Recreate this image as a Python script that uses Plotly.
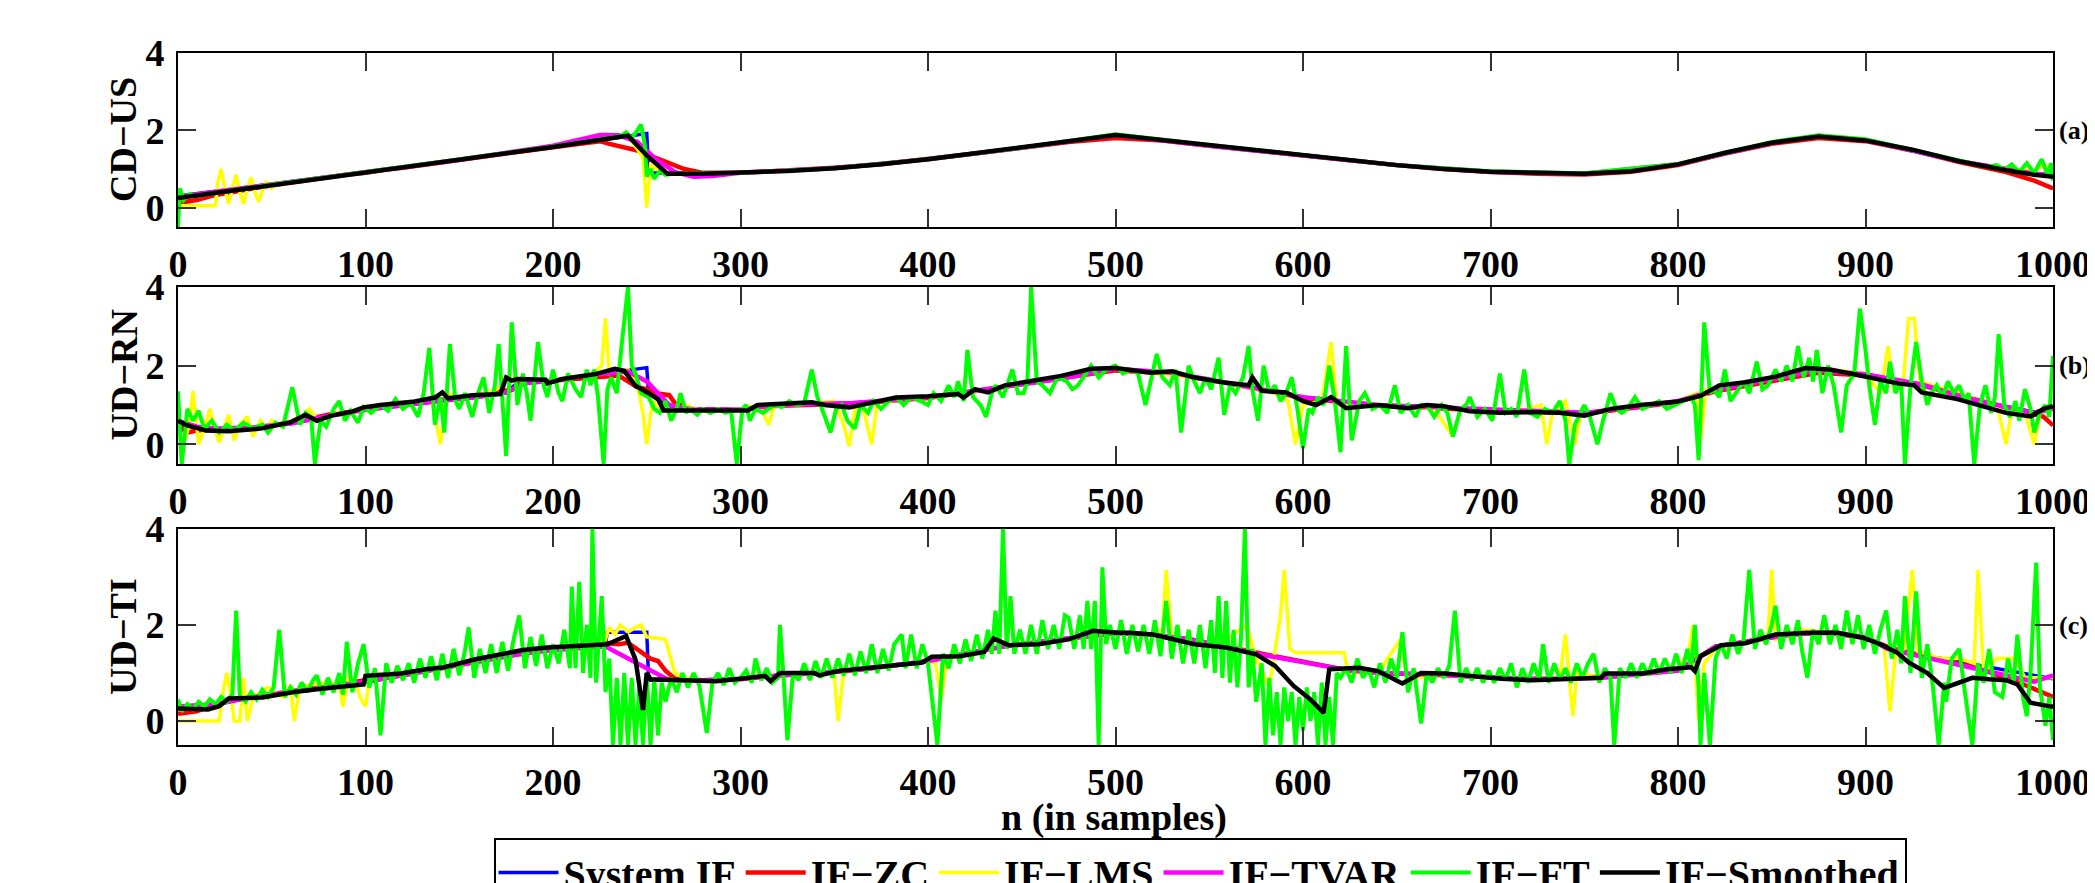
import plotly.graph_objects as go

# ---------------- labels / styling lists ----------------
NAMES = ["System IF", "IF\u2212ZC", "IF\u2212LMS", "IF\u2212TVAR", "IF\u2212FT", "IF\u2212Smoothed"]
COLORS = ["#0000FF", "#FF0000", "#FFFF00", "#FF00FF", "#00FF00", "#000000"]
WIDTHS = [3.5, 4.5, 3.5, 4.5, 4, 4.5]
PANEL_LABELS = ["CD\u2212US", "UD\u2212RN", "UD\u2212TI"]
PANEL_TAGS = ["(a)", "(b)", "(c)"]
X_TICKS = [0, 100, 200, 300, 400, 500, 600, 700, 800, 900, 1000]
Y_TICKS = [0, 2, 4]
X_TITLE = "n (in samples)"

# ---------------- panel (a) CD-US : (sample, IF) ----------------
A_SYS = [(0,0.3),(50,0.6),(100,0.92),(150,1.24),(200,1.57),(240,1.84),(250,1.92),(251,0.9),(280,0.88),(300,0.9),
         (350,1.02),(400,1.25),(450,1.55),(500,1.88),(550,1.6),(600,1.35),(650,1.1),(700,0.93),(750,0.88),(800,1.12),
         (850,1.68),(875,1.85),(900,1.75),(950,1.2),(1000,0.82)]
A_ZC = [(0,0.12),(5,0.15),(10,0.2),(20,0.33),(30,0.42),(40,0.5),(50,0.58),(60,0.65),(70,0.72),(80,0.78),(90,0.85),
        (100,0.9),(110,0.98),(120,1.03),(130,1.1),(140,1.16),(150,1.23),(160,1.3),(170,1.36),(180,1.43),(190,1.5),
        (200,1.56),(210,1.63),(220,1.7),(225,1.72),(230,1.65),(235,1.6),(240,1.55),(245,1.48),(250,1.38),(255,1.28),
        (260,1.18),(265,1.1),(270,1.0),(275,0.95),(280,0.9),(300,0.9),(325,0.96),(350,1.03),(375,1.12),(400,1.25),
        (425,1.4),(450,1.55),(475,1.7),(500,1.8),(525,1.74),(550,1.6),(575,1.47),(600,1.35),(625,1.22),(650,1.1),
        (675,1.0),(700,0.92),(725,0.88),(750,0.86),(775,0.93),(800,1.1),(825,1.4),(850,1.65),(875,1.8),(900,1.72),
        (925,1.48),(950,1.18),(975,0.92),(990,0.7),(1000,0.5)]
A_LMS = [(0,0.05),(20,0.05),(21,0.6),(23,1.0),(25,0.5),(27,0.1),(29,0.5),(31,0.85),(33,0.4),(35,0.1),(37,0.5),
         (39,0.78),(41,0.4),(43,0.15),(45,0.45),(47,0.65),(50,0.5),(53,0.65),(57,0.6),(60,0.66),(100,0.9),(150,1.24),
         (200,1.57),(240,1.86),(248,1.3),(250,0.0),(252,1.1),(255,1.0),(262,0.88),(300,0.9),(350,1.02),(400,1.25),
         (450,1.55),(500,1.88),(550,1.6),(600,1.35),(650,1.1),(700,0.93),(750,0.88),(800,1.12),(850,1.68),(875,1.85),
         (900,1.75),(950,1.2),(980,0.98),(990,0.95),(995,1.1),(1000,0.95)]
A_TVAR = [(0,0.28),(50,0.6),(100,0.92),(150,1.24),(200,1.6),(215,1.78),(225,1.88),(235,1.87),(245,1.7),(255,1.25),
          (265,0.92),(275,0.8),(285,0.82),(300,0.9),(350,1.02),(400,1.25),(450,1.55),(500,1.88),(550,1.6),(600,1.35),
          (650,1.1),(700,0.93),(750,0.88),(800,1.12),(850,1.68),(875,1.85),(900,1.75),(950,1.2),(990,0.88),(1000,0.85)]
A_FT = [(0,-0.5),(1,0.5),(3,0.2),(6,0.35),(10,0.3),(50,0.6),(100,0.92),(150,1.24),(200,1.58),(230,1.8),(236,1.85),
        (239,1.95),(242,1.8),(245,2.0),(247,2.15),(249,1.6),(250,0.8),(252,1.0),(254,0.75),(257,0.95),(260,0.85),
        (265,0.88),(300,0.9),(350,1.02),(400,1.25),(450,1.55),(500,1.9),(550,1.62),(600,1.36),(650,1.1),(700,0.94),
        (750,0.89),(800,1.13),(850,1.7),(875,1.87),(900,1.77),(950,1.22),(965,1.05),(970,1.1),(974,0.98),(978,1.12),
        (982,0.92),(986,1.15),(990,0.9),(994,1.25),(997,0.85),(999,1.15),(1000,0.7)]
A_SM = [(0,0.25),(20,0.38),(40,0.52),(60,0.65),(80,0.78),(100,0.9),(120,1.03),(140,1.16),(160,1.3),(180,1.43),
        (200,1.57),(220,1.72),(240,1.86),(250,1.35),(261,0.88),(280,0.88),(300,0.9),(325,0.95),(350,1.02),(375,1.12),
        (400,1.25),(425,1.4),(450,1.55),(475,1.72),(500,1.88),(525,1.75),(550,1.6),(575,1.48),(600,1.35),(625,1.23),
        (650,1.1),(675,1.0),(700,0.93),(725,0.9),(750,0.88),(775,0.94),(800,1.12),(825,1.42),(850,1.68),(875,1.84),
        (900,1.74),(925,1.5),(950,1.2),(975,0.97),(990,0.85),(1000,0.8)]

# ---------------- panel (b) UD-RN ----------------
B_SYS = [(0,0.5),(10,0.42),(20,0.36),(40,0.42),(60,0.52),(80,0.72),(100,0.88),(120,1.0),(140,1.1),(160,1.2),
         (175,1.3),(180,1.52),(200,1.62),(220,1.75),(240,1.88),(250,1.95),(251,1.3),(260,1.0),(275,0.88),(300,0.88),
         (320,1.0),(360,1.05),(400,1.2),(440,1.45),(470,1.66),(500,1.92),(530,1.82),(560,1.56),(600,1.2),(640,1.0),
         (680,0.93),(720,0.84),(750,0.8),(780,0.97),(800,1.1),(820,1.38),(850,1.65),(875,1.88),(900,1.78),(930,1.52),
         (960,1.1),(990,0.82),(1000,0.95)]
B_ZC = [(0,0.48),(5,0.3),(10,0.35),(20,0.38),(40,0.42),(60,0.55),(80,0.75),(100,0.88),(120,1.0),(140,1.12),
        (160,1.25),(170,1.35),(178,1.38),(182,1.55),(200,1.62),(220,1.72),(235,1.75),(240,1.6),(245,1.45),(250,1.4),
        (255,1.3),(262,1.25),(265,1.05),(275,0.9),(300,0.88),(320,0.98),(360,1.03),(400,1.18),(440,1.45),(470,1.65),
        (500,1.88),(530,1.8),(560,1.55),(600,1.18),(640,0.98),(680,0.9),(720,0.82),(750,0.78),(780,0.95),(800,1.08),
        (820,1.35),(850,1.62),(875,1.82),(900,1.75),(930,1.5),(960,1.12),(985,0.8),(995,0.7),(1000,0.48)]
B_LMS = [(0,0.3),(3,0.0),(6,0.5),(8,1.35),(11,0.0),(14,0.4),(17,0.9),(20,0.3),(22,0.05),(25,0.5),(27,0.75),(30,0.1),
         (33,0.5),(37,0.7),(40,0.2),(44,0.6),(47,0.4),(50,0.6),(55,0.45),(60,0.6),(66,0.7),(70,0.9),(75,0.6),(80,0.7),
         (85,0.8),(90,0.75),(100,0.9),(110,1.0),(120,0.95),(130,1.1),(135,1.2),(140,0.0),(143,1.3),(150,1.2),(160,1.25),
         (170,1.4),(175,1.6),(180,1.7),(190,1.6),(200,1.65),(210,1.7),(220,1.75),(226,2.0),(228,3.2),(230,1.8),(240,1.9),
         (245,1.5),(248,0.8),(250,0.0),(253,1.1),(258,0.9),(265,0.8),(270,1.0),(280,0.85),(300,0.9),(310,1.0),(315,0.5),
         (318,1.0),(330,1.0),(340,1.05),(350,1.1),(355,0.5),(358,-0.05),(361,0.9),(365,1.0),(370,0.0),(373,1.1),(380,1.1),
         (400,1.2),(420,1.3),(440,1.45),(460,1.6),(480,1.75),(500,1.95),(520,1.8),(540,1.7),(560,1.55),(575,1.4),(585,1.3),
         (592,1.1),(596,0.0),(600,1.0),(610,1.1),(615,2.6),(618,1.0),(630,1.0),(650,1.0),(670,0.9),(680,0.2),(684,0.9),
         (700,0.85),(720,0.9),(727,1.0),(730,0.0),(733,0.8),(740,1.1),(745,0.0),(748,0.8),(760,0.85),(780,1.0),(800,1.1),
         (810,1.3),(812,0.1),(815,1.4),(830,1.5),(850,1.7),(870,1.85),(880,1.9),(900,1.8),(908,1.3),(912,2.5),(915,1.4),
         (920,1.5),(923,3.2),(926,3.2),(929,1.6),(940,1.45),(950,1.3),(960,1.1),(970,1.0),(975,0.0),(978,0.9),(985,0.8),
         (990,0.0),(993,0.8),(1000,0.9)]
B_TVAR = [(0,0.6),(10,0.45),(20,0.4),(40,0.43),(60,0.53),(80,0.72),(100,0.88),(120,1.0),(140,1.1),(160,1.2),
          (175,1.32),(185,1.55),(200,1.62),(220,1.76),(240,1.85),(250,1.6),(262,1.0),(275,0.88),(300,0.88),(320,1.0),
          (360,1.05),(400,1.2),(440,1.45),(470,1.66),(500,1.92),(530,1.82),(560,1.56),(600,1.2),(640,1.0),(680,0.93),
          (720,0.84),(750,0.8),(780,0.97),(800,1.1),(820,1.38),(850,1.65),(875,1.88),(900,1.78),(930,1.52),(960,1.1),
          (990,0.8),(1000,0.9)]
B_FT = [(0,1.35),(2,-0.5),(5,0.9),(8,0.6),(11,0.85),(14,0.4),(18,0.6),(22,0.3),(26,0.5),(30,0.35),(35,0.55),(40,0.4),
        (45,0.5),(48,0.3),(52,0.55),(56,0.45),(61,1.45),(65,0.5),(68,0.8),(71,0.7),(73,-0.5),(76,0.6),(79,0.45),(83,0.9),
        (86,1.1),(89,0.6),(92,0.85),(96,0.55),(99,0.95),(103,0.8),(108,1.0),(112,0.85),(116,1.15),(120,0.9),(124,1.05),
        (128,0.7),(131,1.3),(134,2.45),(137,0.5),(140,1.2),(142,0.3),(145,2.55),(148,1.1),(150,0.9),(153,1.3),(157,0.7),
        (160,1.3),(163,1.7),(166,0.8),(169,1.5),(171,2.55),(173,1.0),(175,-0.3),(178,3.1),(181,1.0),(184,1.8),(186,1.3),
        (188,0.6),(190,1.5),(192,2.6),(195,1.5),(197,1.2),(200,1.9),(203,1.3),(205,1.1),(208,1.8),(212,1.4),(215,1.2),
        (218,1.9),(220,1.5),(222,1.9),(224,1.2),(227,-0.5),(229,1.4),(231,1.7),(234,1.3),(237,2.7),(240,4.0),(242,2.0),
        (244,1.8),(247,1.3),(251,1.2),(254,0.9),(257,0.8),(260,1.1),(263,0.6),(266,0.9),(268,1.3),(271,0.8),(273,0.9),
        (277,0.75),(280,0.9),(284,0.8),(288,0.9),(292,0.8),(295,0.85),(298,-0.5),(301,0.9),(303,1.0),(305,0.6),(308,0.9),
        (312,0.8),(315,0.9),(318,1.0),(322,0.95),(326,1.1),(330,1.0),(334,1.05),(338,1.9),(341,1.2),(345,0.7),(348,0.3),
        (351,0.9),(354,1.0),(357,0.6),(361,0.4),(364,1.0),(368,0.8),(371,1.1),(375,0.9),(379,1.1),(383,1.2),(387,1.0),
        (391,1.2),(396,1.1),(400,1.0),(403,1.3),(407,1.1),(411,1.5),(414,1.2),(416,1.6),(419,1.1),(421,2.4),(424,1.2),
        (428,1.0),(431,0.7),(434,1.3),(436,1.5),(440,1.2),(443,1.6),(445,1.9),(448,1.3),(451,1.3),(453,1.6),(455,4.0),
        (458,1.6),(461,1.5),(465,1.3),(469,1.7),(474,1.6),(477,1.4),(480,1.5),(484,1.8),(487,2.0),(491,1.7),(495,1.9),
        (500,2.0),(504,1.8),(508,1.9),(512,1.8),(516,1.0),(519,1.7),(522,2.3),(525,1.7),(529,1.5),(532,1.9),(535,0.3),
        (539,2.0),(542,1.6),(545,1.3),(548,1.7),(551,1.4),(555,2.2),(558,0.75),(561,1.5),(564,1.3),(568,1.7),(571,2.5),
        (573,1.4),(576,0.6),(579,2.0),(582,1.3),(585,1.5),(588,1.1),(591,1.3),(594,1.7),(597,0.9),(600,-0.1),(603,0.9),
        (605,0.8),(608,1.2),(611,1.0),(614,2.0),(617,1.1),(620,-0.2),(623,2.5),(626,0.1),(630,1.1),(633,1.3),(637,0.9),
        (641,1.0),(645,0.8),(649,1.5),(652,0.8),(656,1.0),(660,0.7),(663,1.0),(666,1.0),(670,0.7),(674,1.0),(677,0.8),
        (680,0.2),(684,0.9),(687,1.0),(689,1.2),(693,0.7),(697,0.9),(701,0.6),(705,1.8),(708,0.8),(711,0.9),(714,0.7),
        (718,1.9),(721,0.8),(725,0.7),(729,0.9),(733,0.8),(737,1.1),(740,0.6),(742,-0.5),(745,0.5),(748,0.8),(750,1.0),
        (753,0.7),(757,0.0),(760,0.6),(764,1.3),(767,0.9),(770,0.8),(773,0.9),(777,1.2),(781,0.9),(785,1.0),(790,1.1),
        (794,0.9),(799,1.0),(803,1.1),(807,1.2),(809,1.0),(811,-0.4),(814,3.1),(817,1.3),(819,1.4),(822,1.2),(825,1.9),
        (828,1.1),(832,1.4),(835,1.6),(838,1.3),(842,2.1),(845,1.4),(848,1.5),(852,1.9),(855,1.6),(858,2.0),(861,1.6),
        (864,2.5),(867,1.7),(870,2.2),(872,1.6),(874,2.4),(877,1.3),(880,2.0),(883,1.5),(887,0.3),(890,1.5),(894,1.8),
        (897,3.45),(900,2.4),(902,1.5),(905,0.5),(908,1.6),(911,1.3),(913,2.1),(916,1.3),(919,1.6),(921,-0.5),(924,1.5),
        (927,2.6),(930,1.6),(933,1.0),(935,1.3),(938,1.5),(941,1.2),(944,1.6),(947,1.3),(950,1.5),(953,1.1),(955,1.3),
        (958,-0.5),(961,1.0),(964,1.5),(967,0.8),(969,1.2),(971,2.8),(974,1.0),(977,0.7),(980,1.1),(982,0.6),(985,1.4),
        (988,0.9),(990,0.3),(993,0.8),(996,1.0),(998,0.7),(1000,2.25)]
B_SM = [(0,0.6),(5,0.48),(15,0.35),(27,0.33),(44,0.4),(60,0.56),(68,0.75),(74,0.6),(82,0.73),(92,0.82),(99,0.94),
        (108,1.0),(125,1.08),(137,1.19),(141,1.32),(144,1.17),(157,1.25),(172,1.28),(175,1.7),(178,1.62),(181,1.66),
        (196,1.64),(197,1.55),(205,1.66),(222,1.78),(233,1.92),(238,1.87),(244,1.49),(251,1.3),(256,1.15),(259,0.86),
        (270,0.86),(286,0.86),(304,0.86),(309,1.0),(319,1.02),(338,1.07),(345,1.0),(358,0.94),(371,1.07),(383,1.19),
        (400,1.22),(416,1.28),(419,1.19),(425,1.4),(432,1.32),(441,1.5),(455,1.61),(471,1.74),(487,1.92),(500,1.94),
        (519,1.82),(530,1.86),(542,1.7),(558,1.57),(571,1.5),(573,1.7),(578,1.36),(591,1.32),(600,1.1),(607,1.0),
        (615,1.2),(623,0.92),(640,1.0),(656,0.92),(666,1.0),(675,0.97),(689,0.84),(705,0.8),(721,0.82),(737,0.8),
        (750,0.73),(764,0.9),(780,1.0),(799,1.08),(812,1.23),(822,1.5),(835,1.57),(852,1.72),(868,1.94),(881,1.9),
        (894,1.78),(917,1.55),(926,1.5),(930,1.32),(949,1.15),(966,0.92),(975,0.8),(988,0.71),(995,0.9),(1000,0.97)]

# ---------------- panel (c) UD-TI ----------------
C_SYS = [(0,0.3),(20,0.35),(40,0.5),(60,0.6),(80,0.7),(100,0.8),(120,0.95),(140,1.1),(160,1.25),(180,1.38),(200,1.5),
         (220,1.6),(228,1.62),(229,1.85),(250,1.85),(251,0.85),(280,0.85),(300,0.88),(320,0.95),(340,1.0),(360,1.05),
         (380,1.15),(400,1.25),(420,1.4),(440,1.55),(460,1.65),(480,1.75),(500,1.85),(520,1.8),(540,1.7),(560,1.55),
         (575,1.42),(625,1.05),(640,1.0),(660,0.98),(680,0.95),(700,0.9),(720,0.88),(740,0.88),(760,0.9),(780,0.98),
         (800,1.05),(810,1.3),(820,1.55),(840,1.68),(860,1.8),(880,1.85),(900,1.75),(912,1.5),(1000,0.88)]
C_ZC = [(0,0.15),(10,0.2),(20,0.35),(30,0.45),(40,0.5),(60,0.62),(80,0.75),(100,0.85),(120,0.95),(140,1.1),(160,1.25),
        (180,1.38),(200,1.5),(220,1.6),(229,1.62),(235,1.6),(240,1.63),(245,1.5),(248,1.4),(252,1.3),(256,1.25),
        (260,1.05),(265,0.88),(280,0.85),(300,0.87),(320,0.95),(340,1.0),(360,1.05),(380,1.15),(400,1.25),(420,1.4),
        (440,1.55),(460,1.65),(480,1.75),(500,1.83),(520,1.8),(540,1.7),(560,1.55),(578,1.4),(625,1.05),(640,1.0),
        (660,0.98),(680,0.95),(700,0.9),(720,0.88),(740,0.88),(760,0.92),(780,0.98),(800,1.05),(810,1.3),(820,1.55),
        (840,1.68),(860,1.8),(880,1.84),(900,1.73),(915,1.5),(960,1.1),(985,0.75),(1000,0.5)]
C_LMS = [(0,0.0),(22,0.0),(24,0.6),(26,1.0),(28,0.6),(30,0.0),(33,0.0),(35,0.9),(37,0.0),(40,0.5),(44,0.6),(48,0.7),
         (52,0.6),(56,0.5),(60,0.75),(62,0.0),(65,0.7),(70,0.75),(80,0.8),(86,0.75),(88,0.3),(91,0.9),(95,0.8),(97,0.5),
         (100,0.3),(102,0.85),(106,1.0),(110,0.95),(120,1.0),(140,1.1),(160,1.25),(180,1.38),(200,1.5),(220,1.6),
         (228,1.7),(230,1.95),(233,1.8),(236,2.0),(240,1.85),(244,1.95),(247,2.0),(250,1.75),(260,1.7),(265,1.0),
         (270,0.9),(280,0.85),(300,0.88),(320,0.95),(340,1.0),(350,1.0),(352,0.0),(355,1.0),(360,1.05),(380,1.15),
         (400,1.25),(404,1.2),(407,0.45),(410,1.3),(420,1.4),(440,1.55),(460,1.65),(480,1.75),(493,1.9),(500,1.85),
         (520,1.8),(525,1.9),(527,3.15),(530,1.7),(540,1.7),(555,1.6),(570,2.0),(575,1.3),(582,0.7),(585,1.4),(588,2.2),
         (590,3.15),(593,1.5),(596,1.42),(622,1.42),(624,1.0),(640,1.0),(652,1.7),(655,1.0),(660,0.9),(680,0.95),
         (700,0.9),(720,0.88),(737,0.9),(740,1.8),(742,0.9),(744,0.1),(746,1.0),(760,0.9),(780,0.98),(800,1.05),
         (806,1.5),(808,2.0),(811,0.0),(814,1.2),(820,1.5),(840,1.68),(848,1.8),(850,3.15),(852,1.7),(866,1.9),
         (880,1.85),(900,1.75),(910,1.55),(913,0.2),(916,1.4),(920,1.35),(925,3.15),(928,1.45),(940,1.3),(950,1.3),
         (958,1.2),(960,3.15),(963,1.0),(970,1.3),(980,1.3),(985,0.9),(1000,0.9)]
C_TVAR = [(0,0.3),(20,0.35),(40,0.5),(60,0.6),(80,0.72),(100,0.82),(120,0.96),(140,1.1),(160,1.25),(180,1.38),
          (200,1.48),(228,1.55),(262,0.85),(280,0.85),(300,0.88),(320,0.95),(340,1.0),(360,1.05),(380,1.15),(400,1.25),
          (420,1.4),(440,1.55),(460,1.65),(480,1.75),(500,1.85),(520,1.8),(540,1.7),(560,1.55),(575,1.4),(625,1.05),
          (640,1.0),(660,0.98),(680,0.95),(700,0.9),(720,0.88),(740,0.88),(760,0.9),(780,0.98),(800,1.05),(810,1.3),
          (820,1.55),(840,1.68),(860,1.8),(880,1.85),(900,1.75),(912,1.5),(990,0.82),(1000,0.95)]
C_FT = [(0,0.45),(2,0.2),(5,0.35),(8,0.25),(11,0.4),(14,0.3),(17,0.45),(20,0.35),(23,0.5),(26,0.4),(29,0.55),(31,2.3),
        (33,0.5),(36,0.4),(39,0.6),(42,0.45),(45,0.65),(48,0.5),(51,0.7),(54,1.9),(57,0.5),(60,0.7),(63,0.55),(66,0.8),
        (69,0.6),(72,0.85),(74,0.95),(77,0.55),(80,0.9),(83,0.6),(86,1.0),(88,0.55),(90,1.65),(93,0.6),(96,1.2),(99,1.6),
        (102,0.7),(105,1.1),(108,-0.3),(111,1.2),(114,0.8),(117,1.15),(120,0.85),(123,1.2),(126,0.8),(129,1.3),(132,0.9),
        (135,1.35),(138,0.85),(141,1.4),(144,0.9),(147,1.5),(150,0.95),(153,1.45),(155,1.95),(158,0.9),(161,1.5),
        (164,1.0),(167,1.6),(170,1.0),(173,1.65),(176,1.05),(179,1.7),(182,2.2),(185,1.1),(188,1.75),(191,1.15),
        (194,1.8),(197,1.1),(200,1.6),(203,1.2),(206,1.9),(209,1.1),(210,2.8),(212,1.1),(214,2.9),(216,1.0),(218,2.0),
        (220,0.9),(221,4.0),(223,0.8),(226,2.6),(228,0.6),(230,1.3),(232,-0.5),(234,0.9),(236,-0.5),(238,1.0),(240,-0.5),
        (242,0.9),(244,-0.5),(246,0.7),(248,-0.5),(250,1.0),(252,-0.5),(254,0.9),(256,-0.3),(258,0.8),(260,0.4),(263,0.9),
        (266,0.6),(269,1.0),(272,0.7),(275,1.0),(278,0.75),(282,-0.25),(285,0.8),(288,1.0),(291,0.75),(294,1.1),(297,0.8),
        (300,0.9),(303,1.05),(306,0.8),(308,1.3),(311,0.85),(314,1.1),(317,0.8),(320,0.9),(321,2.0),(323,0.9),(325,-0.4),
        (328,1.0),(331,0.85),(334,1.2),(337,0.85),(340,1.25),(343,0.9),(346,1.3),(349,0.9),(352,1.3),(355,0.95),(358,1.4),
        (361,0.95),(364,1.45),(367,1.0),(370,1.6),(373,1.0),(376,1.5),(379,1.05),(382,1.6),(386,1.8),(388,1.1),(391,1.8),
        (394,1.1),(397,1.6),(400,1.2),(402,0.5),(405,-0.5),(408,1.4),(411,1.1),(414,1.6),(417,1.2),(420,1.7),(423,1.25),
        (426,1.8),(429,1.3),(432,1.9),(434,1.4),(436,2.3),(438,1.4),(440,4.0),(442,1.5),(444,2.6),(446,1.4),(449,1.9),
        (452,1.4),(455,2.0),(458,1.4),(461,2.1),(464,1.5),(467,2.0),(470,1.5),(473,2.2),(475,2.15),(478,1.5),(481,2.2),
        (483,1.5),(485,2.5),(487,1.5),(489,2.5),(491,-0.5),(493,3.2),(495,1.6),(497,2.0),(500,1.5),(503,2.1),(506,1.4),
        (509,2.0),(512,1.45),(515,2.0),(518,1.4),(521,2.1),(524,1.35),(527,2.5),(530,1.3),(533,2.0),(536,1.2),(539,1.9),
        (542,1.2),(545,2.0),(548,1.1),(551,2.1),(553,1.0),(555,2.6),(557,0.9),(559,2.5),(561,0.8),(563,1.9),(565,0.7),
        (567,1.8),(569,4.0),(571,0.7),(573,1.5),(575,0.4),(578,1.2),(580,-0.5),(582,0.9),(584,-0.3),(586,0.6),(588,-0.5),
        (590,0.7),(592,0.0),(594,0.6),(596,-0.5),(598,0.5),(600,-0.2),(602,0.7),(604,0.0),(606,0.6),(608,-0.5),(610,0.8),
        (612,-0.5),(614,0.5),(616,-0.5),(618,1.0),(620,0.9),(623,1.1),(626,0.8),(629,1.3),(632,0.9),(635,1.1),(638,0.7),
        (641,1.2),(644,0.8),(647,1.3),(650,0.9),(653,1.85),(656,0.6),(659,1.1),(663,-0.05),(666,1.0),(669,0.8),(672,1.1),
        (675,0.9),(678,1.15),(681,2.3),(684,0.8),(687,1.1),(690,0.85),(693,1.1),(696,0.8),(699,1.05),(702,0.8),(705,1.1),
        (708,0.85),(711,1.2),(714,0.7),(717,1.1),(720,0.8),(723,1.2),(726,0.85),(728,1.6),(731,0.8),(734,1.2),(737,0.85),
        (740,1.1),(743,0.8),(746,1.2),(749,0.9),(752,1.2),(755,1.4),(758,0.8),(761,1.1),(764,0.9),(766,-0.5),(769,1.1),
        (772,0.9),(775,1.2),(778,0.9),(781,1.2),(784,0.95),(787,1.3),(790,1.0),(793,1.3),(796,1.0),(799,1.4),(802,1.0),
        (805,1.5),(807,1.1),(809,2.0),(811,0.7),(812,-0.5),(814,1.0),(817,-0.5),(820,1.3),(823,1.6),(826,1.3),(829,1.8),
        (832,1.4),(835,1.7),(838,3.15),(841,1.5),(844,1.9),(847,1.6),(850,2.0),(852,2.4),(855,1.5),(858,2.0),(861,1.6),
        (864,2.1),(866,1.5),(869,0.9),(872,1.9),(875,1.6),(878,2.2),(881,1.6),(884,2.0),(887,1.5),(890,2.3),(893,1.6),
        (896,2.2),(899,1.5),(902,2.0),(905,1.4),(908,1.9),(911,2.3),(914,1.3),(917,1.9),(919,1.2),(921,2.6),(924,1.0),
        (927,2.7),(930,0.9),(933,1.6),(936,0.7),(939,-0.5),(942,0.8),(943,0.4),(946,1.3),(950,1.5),(953,0.6),(957,-0.5),
        (960,1.2),(963,0.8),(966,1.5),(969,0.6),(973,0.5),(976,1.3),(979,0.8),(981,1.8),(984,0.5),(986,0.1),(988,1.0),
        (991,3.3),(993,0.7),(996,-0.1),(998,0.5),(1000,-0.4)]
C_SM = [(0,0.26),(16,0.24),(22,0.31),(27,0.47),(45,0.49),(61,0.6),(74,0.66),(93,0.73),(99,0.76),(100,0.94),(119,0.99),
        (132,1.08),(142,1.12),(158,1.28),(174,1.39),(184,1.48),(197,1.53),(216,1.56),(229,1.6),(239,1.77),(244,1.28),
        (248,0.23),(250,1.0),(252,0.87),(271,0.85),(287,0.83),(300,0.88),(313,0.94),(316,0.83),(321,1.0),(339,1.0),
        (342,0.95),(352,1.04),(368,1.11),(384,1.18),(397,1.22),(402,1.34),(417,1.35),(430,1.44),(435,1.72),(443,1.58),
        (459,1.6),(475,1.7),(488,1.88),(501,1.84),(507,1.84),(520,1.8),(526,1.74),(542,1.6),(559,1.53),(575,1.39),
        (585,1.15),(595,0.73),(604,0.45),(611,0.17),(614,1.08),(630,1.11),(640,1.04),(653,0.78),(663,1.0),(676,0.99),
        (689,0.94),(706,0.88),(722,0.85),(741,0.88),(759,0.9),(761,0.99),(781,0.99),(794,1.08),(807,1.12),(809,1.04),
        (812,1.35),(823,1.58),(836,1.62),(852,1.8),(869,1.84),(885,1.84),(898,1.74),(908,1.6),(917,1.42),(923,1.22),
        (933,1.0),(942,0.69),(949,0.78),(957,0.9),(966,0.87),(975,0.85),(981,0.76),(988,0.38),(999,0.3),(1000,0.3)]

PANELS = [
    [A_SYS, A_ZC, A_LMS, A_TVAR, A_FT, A_SM],
    [B_SYS, B_ZC, B_LMS, B_TVAR, B_FT, B_SM],
    [C_SYS, C_ZC, C_LMS, C_TVAR, C_FT, C_SM],
]

FAMILY = "Liberation Serif, Times New Roman, serif"

fig = go.Figure()
for p, series in enumerate(PANELS):
    xa = "x" if p == 0 else f"x{p+1}"
    ya = "y" if p == 0 else f"y{p+1}"
    for k, pts in enumerate(series):
        fig.add_trace(go.Scatter(
            x=[q[0] for q in pts], y=[q[1] for q in pts],
            mode="lines", name=NAMES[k], legendgroup=NAMES[k], showlegend=(p == 0),
            line=dict(color=COLORS[k], width=WIDTHS[k]),
            xaxis=xa, yaxis=ya))

# page body has an 8px default margin: compensate so screen positions match
OFF = 8
W, H = 2095 - OFF, 883 - OFF
L, R, T, B = 178 - OFF, 42, 53 - OFF, 138
ph = H - T - B
BOTTOM_SCREEN = OFF + H - B          # screen y of the lowest plot edge
def frac(screen_y):
    return (BOTTOM_SCREEN - screen_y) / ph

domains = [[frac(227), 1.0], [frac(464), frac(287)], [0.0, frac(529)]]

axis_style = dict(showline=True, linecolor="black", linewidth=2, mirror="ticks",
                  ticks="inside", ticklen=18, tickwidth=1.5, tickcolor="#333333",
                  showgrid=False, zeroline=False,
                  tickfont=dict(family=FAMILY, size=38, color="black", weight="bold"))

layout = dict(width=W, height=H, margin=dict(l=L, r=R, t=T, b=B, autoexpand=False),
              paper_bgcolor="white", plot_bgcolor="white",
              font=dict(family=FAMILY, size=38, color="black", weight="bold"))
for p in range(3):
    sx = "xaxis" if p == 0 else f"xaxis{p+1}"
    sy = "yaxis" if p == 0 else f"yaxis{p+1}"
    ya = "y" if p == 0 else f"y{p+1}"
    xa = "x" if p == 0 else f"x{p+1}"
    layout[sx] = dict(axis_style, domain=[0, 1], anchor=ya, range=[0, 1000],
                      tickvals=X_TICKS, ticklabelstandoff=2)
    layout[sy] = dict(axis_style, domain=domains[p], anchor=xa, range=[-0.5, 4],
                      tickvals=Y_TICKS, ticklabelstandoff=4)

layout["legend"] = dict(orientation="h", x=(1200 - 178) / (W - L - R), xanchor="center",
                        y=frac(838), yanchor="top",
                        bordercolor="black", borderwidth=2, bgcolor="white",
                        font=dict(family=FAMILY, size=40, color="black", weight="bold"),
                        itemwidth=60, tracegroupgap=0)
fig.update_layout(**layout)

ann = []
for p in range(3):
    yd = "y domain" if p == 0 else f"y{p+1} domain"
    yv = "y" if p == 0 else f"y{p+1}"
    ann.append(dict(text=PANEL_LABELS[p], xref="paper", yref=yd, x=-55 / (W - L - R), y=0.5,
                    xanchor="center", yanchor="middle", textangle=-90, showarrow=False,
                    font=dict(family=FAMILY, size=38, color="black", weight="bold")))
    ann.append(dict(text=PANEL_TAGS[p], xref="paper", yref=yv, x=1, y=2, xshift=4,
                    xanchor="left", yanchor="middle", showarrow=False,
                    font=dict(family=FAMILY, size=26, color="black", weight="bold")))
ann.append(dict(text=X_TITLE, xref="paper", yref="paper", x=(1114 - 178) / (W - L - R), y=frac(817),
                xanchor="center", yanchor="middle", showarrow=False,
                font=dict(family=FAMILY, size=38, color="black", weight="bold")))
fig.update_layout(annotations=ann)

fig.write_html("out.html")
